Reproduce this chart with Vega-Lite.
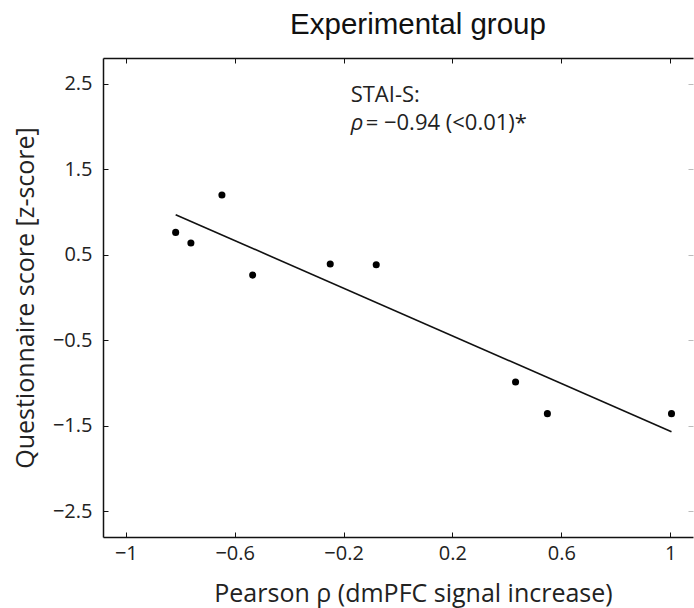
{
  "$schema": "https://vega.github.io/schema/vega-lite/v6.json",
  "autosize": "none",
  "padding": {"left": 103, "top": 58, "right": 1, "bottom": 71},
  "width": 590,
  "height": 479,
  "background": "white",
  "title": {
    "text": "Experimental group",
    "font": "Liberation Sans",
    "fontSize": 29.5,
    "fontWeight": "normal",
    "color": "#111",
    "anchor": "middle",
    "frame": "group",
    "baseline": "alphabetic",
    "offset": -6,
    "dx": 20
  },
  "config": {
    "view": {"stroke": null},
    "axis": {
      "grid": false,
      "domainColor": "#111",
      "domainWidth": 1.5,
      "tickColor": "#111",
      "tickSize": -5,
      "tickWidth": 1,
      "labelFont": "Open Sans",
      "labelFontSize": 20,
      "labelColor": "#222",
      "titleFont": "Open Sans",
      "titleFontSize": 25,
      "titleFontWeight": "normal",
      "titleColor": "#222"
    },
    "text": {"font": "Open Sans", "fontSize": 22, "color": "#222"}
  },
  "datasets": {
    "subjects": [
      {"rho": -0.817, "score": 0.761},
      {"rho": -0.761, "score": 0.637},
      {"rho": -0.647, "score": 1.199},
      {"rho": -0.534, "score": 0.262},
      {"rho": -0.249, "score": 0.391},
      {"rho": -0.08, "score": 0.383},
      {"rho": 0.432, "score": -0.987},
      {"rho": 0.549, "score": -1.358},
      {"rho": 1.005, "score": -1.358}
    ],
    "fit": [
      {"rho": -0.817, "score": 0.968},
      {"rho": 1.005, "score": -1.569}
    ],
    "note": [
      {"rho": -0.174, "line1": 2.285, "line2": 1.958}
    ]
  },
  "layer": [
    {
      "data": {"name": "subjects"},
      "mark": {"type": "circle", "size": 50, "color": "black", "opacity": 1},
      "encoding": {
        "x": {
          "field": "rho",
          "type": "quantitative",
          "scale": {"domain": [-1.084, 1.084], "nice": false, "zero": false},
          "axis": {
            "orient": "bottom",
            "values": [-1, -0.6, -0.2, 0.2, 0.6, 1],
            "format": "~g",
            "ticks": false,
            "labelPadding": 6,
            "labelFlush": false,
            "title": "Pearson ρ (dmPFC signal increase)",
            "titleX": 310,
            "titleY": 64,
            "titleAnchor": "middle",
            "titleBaseline": "alphabetic"
          }
        },
        "y": {
          "field": "score",
          "type": "quantitative",
          "scale": {"domain": [-2.8, 2.8], "nice": false, "zero": false},
          "axis": {
            "orient": "left",
            "values": [-2.5, -1.5, -0.5, 0.5, 1.5, 2.5],
            "format": ".1f",
            "ticks": false,
            "labelPadding": 11,
            "labelFlush": false,
            "title": "Questionnaire score [z-score]",
            "titleX": -70,
            "titleY": 239.5,
            "titleAnchor": "middle",
            "titleBaseline": "alphabetic"
          }
        }
      }
    },
    {
      "data": {"name": "fit"},
      "mark": {"type": "line", "color": "#111", "strokeWidth": 1.6},
      "encoding": {
        "x": {
          "field": "rho",
          "type": "quantitative",
          "scale": {"domain": [-1.084, 1.084], "nice": false, "zero": false},
          "axis": {
            "orient": "top",
            "values": [-1, -0.6, -0.2, 0.2, 0.6, 1],
            "labels": false,
            "title": null
          }
        },
        "y": {
          "field": "score",
          "type": "quantitative",
          "scale": {"domain": [-2.8, 2.8], "nice": false, "zero": false},
          "axis": {
            "orient": "right",
            "values": [-2.5, -1.5, -0.5, 0.5, 1.5, 2.5],
            "labels": false,
            "domain": false,
            "tickColor": "#bbb",
            "title": null
          }
        }
      }
    },
    {
      "data": {"name": "note"},
      "mark": {"type": "text", "text": "STAI-S:", "align": "left", "baseline": "alphabetic"},
      "encoding": {
        "x": {
          "field": "rho",
          "type": "quantitative",
          "axis": {
            "orient": "bottom",
            "values": [-1, -0.6, -0.2, 0.2, 0.6, 1],
            "labels": false,
            "domain": false,
            "title": null
          }
        },
        "y": {
          "field": "line1",
          "type": "quantitative",
          "axis": {
            "orient": "left",
            "values": [-2.5, -1.5, -0.5, 0.5, 1.5, 2.5],
            "labels": false,
            "domain": false,
            "title": null
          }
        }
      }
    },
    {
      "data": {"name": "note"},
      "mark": {"type": "text", "text": "ρ", "align": "left", "baseline": "alphabetic", "fontStyle": "italic"},
      "encoding": {
        "x": {"field": "rho", "type": "quantitative", "axis": null},
        "y": {"field": "line2", "type": "quantitative", "axis": null}
      }
    },
    {
      "data": {"name": "note"},
      "mark": {"type": "text", "text": "= −0.94 (<0.01)*", "align": "left", "baseline": "alphabetic", "dx": 15},
      "encoding": {
        "x": {"field": "rho", "type": "quantitative", "axis": null},
        "y": {"field": "line2", "type": "quantitative", "axis": null}
      }
    }
  ],
  "resolve": {"axis": {"x": "independent", "y": "independent"}}
}
